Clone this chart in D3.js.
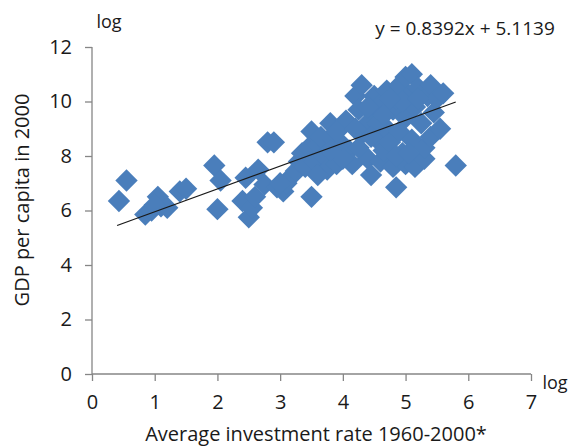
<!DOCTYPE html>
<html><head><meta charset="utf-8">
<script src="https://cdn.jsdelivr.net/npm/d3@7"></script>
<style>
body{margin:0;background:#fff;}
text{font-family:"Open Sans",sans-serif;fill:#1a1a1a;}
</style></head>
<body><svg id="c" width="588" height="448"></svg>
<script>
const xTicks = [0,1,2,3,4,5,6,7];
const yTicks = [0,2,4,6,8,10,12];
const trendSlope = 0.8392, trendIntercept = 5.1139;
const trendRange = [0.4, 5.8];
const equationLabel = "y = 0.8392x + 5.1139";
const xTitle = "Average investment rate 1960-2000*";
const yTitle = "GDP per capita in 2000";
const investment = [0.43,0.55,0.85,0.95,1.05,1.1,1.2,1.0,1.4,1.5,1.95,2.05,2.0,2.4,2.5,2.55,2.6,2.45,2.65,2.75,2.8,2.9,2.95,3.05,3.1,3.2,3.25,3.3,3.35,3.45,3.5,3.5,3.4,3.55,3.6,3.65,3.7,3.75,3.8,3.85,3.9,3.95,4.0,4.05,4.1,4.15,4.2,4.25,4.3,4.3,4.35,4.4,4.45,4.5,4.5,4.55,4.6,4.6,4.65,4.7,4.7,4.75,4.8,4.8,4.85,4.85,4.9,4.9,4.95,5.0,5.0,5.0,5.05,5.1,5.1,5.15,5.15,5.2,5.25,5.3,5.3,5.35,5.4,5.4,5.45,5.5,5.55,5.6,5.8,4.0,3.8,4.4,4.55,4.25,3.6,3.9,4.95,5.2,4.75,4.65,3.0,4.85,4.45,5.05,4.2];
const gdp = [6.35,7.1,5.85,6.0,6.5,6.15,6.1,6.2,6.7,6.8,7.65,7.1,6.05,6.35,5.75,6.1,6.5,7.2,7.5,6.95,8.5,8.5,6.85,6.7,7.0,7.3,7.45,7.8,8.1,8.3,8.9,6.5,7.6,7.8,8.4,8.7,8.0,7.5,9.2,8.6,7.7,9.0,8.4,9.3,8.2,7.7,10.2,9.7,10.6,8.8,9.1,7.9,7.3,9.5,10.2,8.6,9.9,7.8,8.2,10.4,9.0,8.5,7.6,9.7,10.1,6.85,10.6,8.9,8.1,10.9,9.4,7.7,10.2,8.6,11.0,9.8,7.6,10.5,9.2,7.9,8.3,10.2,10.6,8.7,9.6,10.1,9.0,10.3,7.65,7.9,8.2,9.8,9.2,8.3,7.3,8.9,10.0,10.1,10.1,9.5,7.0,8.0,8.7,8.1,9.0];

const svg = d3.select("#c");
const x = d3.scaleLinear().domain([0,7]).range([92,531]);
const y = d3.scaleLinear().domain([0,12]).range([374,47]);
const axisColor = "#868686";

const gx = svg.append("g").attr("transform","translate(0,374)")
  .call(d3.axisBottom(x).tickValues(xTicks).tickSize(7).tickPadding(14).tickFormat(d3.format("d")));
const gy = svg.append("g").attr("transform","translate(92,0)")
  .call(d3.axisLeft(y).tickValues(yTicks).tickSize(7).tickPadding(13).tickFormat(d3.format("d")));
[gx,gy].forEach(g=>{
  g.select(".domain").attr("stroke",axisColor).attr("stroke-width",1.3);
  g.selectAll(".tick line").attr("stroke",axisColor).attr("stroke-width",1.3);
  g.selectAll(".tick text").style("font-size","20px").attr("fill","#1a1a1a");
});
gy.select(".domain").attr("d","M0,374V47");
gx.select(".domain").attr("d","M92,0H531");

const pts = investment.map((v,i)=>({x:v,y:gdp[i]}));
const sym = d3.symbol().type(d3.symbolSquare).size(250);
svg.append("g").selectAll("path").data(pts).join("path")
  .attr("d", sym)
  .attr("transform", d=>`translate(${x(d.x)},${y(d.y)}) rotate(45)`)
  .attr("fill","#4A7EBB");

svg.append("line")
  .attr("x1", x(trendRange[0])).attr("y1", y(trendSlope*trendRange[0]+trendIntercept))
  .attr("x2", x(trendRange[1])).attr("y2", y(trendSlope*trendRange[1]+trendIntercept))
  .attr("stroke","#1a1a1a").attr("stroke-width",1.3);

svg.append("text").attr("x",465).attr("y",35).attr("text-anchor","middle").style("font-size","19px").text(equationLabel);
svg.append("text").attr("x",109).attr("y",28).attr("text-anchor","middle").style("font-size","18px").text("log");
svg.append("text").attr("x",555).attr("y",389).attr("text-anchor","middle").style("font-size","18px").text("log");
svg.append("text").attr("x",316).attr("y",441).attr("text-anchor","middle").style("font-size","20px").text(xTitle);
svg.append("text").attr("transform","translate(29,200) rotate(-90)").attr("text-anchor","middle").style("font-size","20px").text(yTitle);
</script></body></html>
